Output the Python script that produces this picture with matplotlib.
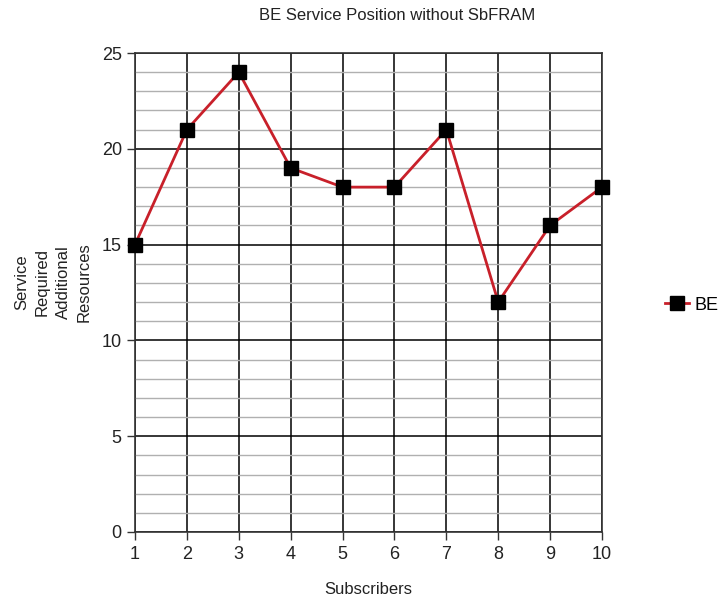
import matplotlib
matplotlib.use("Agg")
import matplotlib.pyplot as plt
from matplotlib.ticker import MultipleLocator

plt.rcParams['font.family'] = ['Liberation Sans', 'DejaVu Sans']

subscribers = [1, 2, 3, 4, 5, 6, 7, 8, 9, 10]
be_resources = [15, 21, 24, 19, 18, 18, 21, 12, 16, 18]

fig = plt.figure(figsize=(7.18, 5.99), dpi=100)
ax = fig.add_axes([135/718, 1-532/599, (602-135)/718, (532-53)/599])

ax.set_xlim(1, 10)
ax.set_ylim(0, 25)
ax.xaxis.set_major_locator(MultipleLocator(1))
ax.yaxis.set_major_locator(MultipleLocator(5))
ax.yaxis.set_minor_locator(MultipleLocator(1))

ax.grid(which='minor', axis='y', color='#b0b0b0', linewidth=1.0)
ax.grid(which='major', axis='y', color='black', linewidth=1.1)
ax.grid(which='major', axis='x', color='black', linewidth=1.1)
ax.set_axisbelow(True)

line, = ax.plot(subscribers, be_resources, color='#c8202a', linewidth=2,
                marker='s', markersize=10, markerfacecolor='black',
                markeredgecolor='black', label='BE', clip_on=False, zorder=3)

for s in ax.spines.values():
    s.set_color('#333333')
    s.set_linewidth(1.2)

ax.tick_params(axis='both', which='major', length=6, width=1, labelsize=13,
               color='#333333', labelcolor='#222222')
ax.tick_params(axis='y', which='minor', length=0)
ax.tick_params(axis='x', pad=4)

ax.set_xlabel('Subscribers', fontsize=12, labelpad=14, color='#222222')
fig.text(53/718, 1-282/599, 'Service\nRequired\nAdditional\nResources',
         rotation=90, ha='center', va='center', fontsize=12,
         linespacing=1.5, color='#222222')
fig.text(397/718, 1-16/599, 'BE Service Position without SbFRAM',
         ha='center', va='center', fontsize=12, color='#222222')

fig.legend(handles=[line], loc='center left', bbox_to_anchor=(658/718, 1-305/599),
           frameon=False, fontsize=13, handlelength=1.3, handletextpad=0.3,
           borderaxespad=0)

fig.savefig('out.png', dpi=100)
